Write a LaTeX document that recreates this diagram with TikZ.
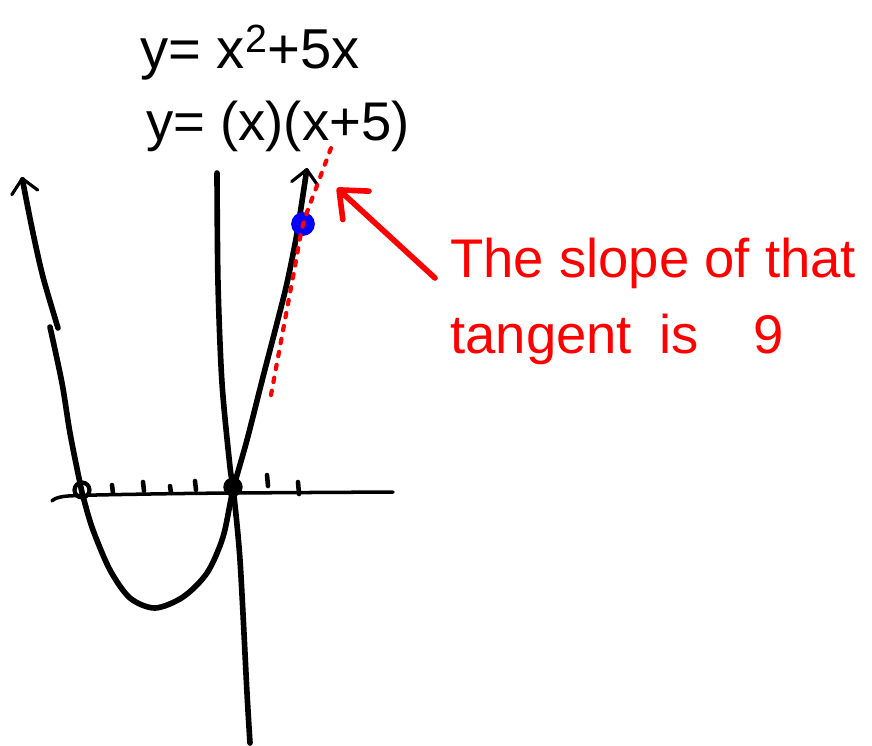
\documentclass[tikz,border=0pt]{standalone}
\usepackage{fontspec}
\setmainfont{Liberation Sans}
\usepackage{tikz}
\usetikzlibrary{arrows.meta}
\usepackage{xcolor}
\tikzset{
    slopecurve/.style={line width=3.2pt, line cap=round, line join=round},
    slopeaxis/.style={line width=2pt, line cap=round},
    slopetick/.style={line width=2.6pt, line cap=round},
    slopeend/.style={-{Straight Barb[length=8pt, width=15pt, round, line width=1.8pt]}},
    slopedot/.style={circle, fill, inner sep=0pt, minimum size=11pt},
    sloperoot/.style={circle, draw, line width=2.4pt, inner sep=0pt, minimum size=8.5pt},
    slopepoint/.style={circle, fill=blue, inner sep=0pt, minimum size=13.5pt},
    slopetangent/.style={red, line width=2.4pt, line cap=round, dash pattern=on 2.5pt off 5pt},
    slopearrow/.style={red, line width=3.2pt, line cap=round, -{Straight Barb[length=13pt, width=22pt, round]}},
    slopeeq/.style={anchor=base west, inner sep=0pt},
    slopenote/.style={red, anchor=north west, inner sep=0pt, align=left, font=\fontsize{31}{43}\selectfont}
}

\begin{document}
\begin{tikzpicture}[x=0.02cm, y=-0.02cm]
        \useasboundingbox (0,0) rectangle (872,745);

        \draw[slopeaxis] plot[smooth] coordinates {(52,501) (68,496) (150,494) (233,493) (393,492)};
        \draw[slopecurve] plot[smooth] coordinates {(217,173) (218,283) (222,383) (230,467) (233,487) (240,560) (247,693) (250,743)};

        \draw[slopecurve, slopeend] plot[smooth] coordinates {(58,328) (43,277) (33,233) (25,193) (22,177)};
        \draw[slopecurve, slopeend] plot[smooth] coordinates {(50,327) (62,383) (70,433) (80,483) (84,500) (93,530) (110,570) (130,598) (155,608) (183,597) (207,573) (223,537) (233,490) (247,440) (263,377) (277,323) (287,283) (297,233) (307,168)};

        \draw[slopetick] (112,485) -- (113,493);
        \draw[slopetick] (143,482) -- (144,491);
        \draw[slopetick] (170,486) -- (171,493);
        \draw[slopetick] (195,481) -- (196,490);
        \draw[slopetick] (267,475) -- (268,486);
        \draw[slopetick] (298,482) -- (299,494);

        \node[sloperoot] (root) at (82,490) {};
        \node[slopedot] (origin) at (233,487) {};
        \node[slopepoint] (point) at (303,224) {};

        \draw[slopetangent] plot[smooth] coordinates {(271,395) (293,277) (303,225) (318,183) (334,140)};

        \node[slopeeq, font=\fontsize{32}{38}\selectfont] (eqa) at (140,68) {y= x\textsuperscript{2}+5x};
        \node[slopeeq, font=\fontsize{31}{37}\selectfont] (eqb) at (146,140) {y= (x)(x+5)};

        \node[slopenote] (note) at (450,238) {The slope of that\\tangent\enspace is\quad 9};

        \coordinate (arrowtail) at (435,278);
        \coordinate (arrowtip) at (337,188);
        \draw[slopearrow] (arrowtail) -- (arrowtip);
    \end{tikzpicture}
\end{document}
